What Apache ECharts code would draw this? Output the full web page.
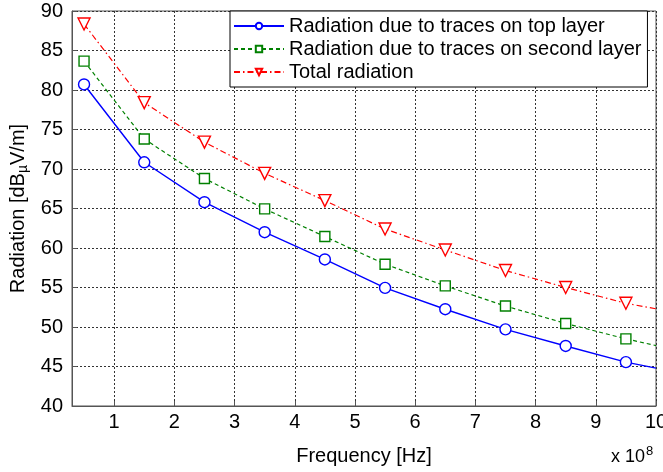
<!doctype html>
<html>
<head>
<meta charset="utf-8">
<script src="https://cdn.jsdelivr.net/npm/echarts@6/dist/echarts.min.js"></script>
<style>
  html, body { margin: 0; padding: 0; background: #fff; }
  #main { width: 663px; height: 472px; }
</style>
</head>
<body>
<div id="main"></div>
<script type="text/javascript">
// values (x in units of 1e8 Hz)
var freq = [0.5, 1.5, 2.5, 3.5, 4.5, 5.5, 6.5, 7.5, 8.5, 9.5, 10];
var topLayer = [80.7, 70.85, 65.8, 62.0, 58.55, 54.95, 52.25, 49.7, 47.6, 45.55, 44.8];
var secondLayer = [83.65, 73.8, 68.8, 64.95, 61.45, 57.95, 55.2, 52.65, 50.45, 48.5, 47.65];
var totalRad = [88.35, 78.4, 73.4, 69.45, 66.0, 62.4, 59.75, 57.15, 55.0, 53.0, 52.3];
var xTicks = [1, 2, 3, 4, 5, 6, 7, 8, 9, 10];

var font = "'Liberation Sans', Arial, sans-serif";

function pts(vals) {
    // last sample (at 10) has no marker
    return freq.map(function (f, i) {
        if (i == freq.length - 1) return { value: [f, vals[i]], symbol: 'none' };
        return [f, vals[i]];
    });
}

var myChart = echarts.init(document.getElementById('main'));
var option = {
    backgroundColor: '#fff',
    animation: false,
    textStyle: { fontFamily: font },
    grid: {
        left: 72, right: 7, top: 11, bottom: 66,
        containLabel: false,
        outerBoundsMode: 'none',
        show: true, borderColor: '#555', borderWidth: 1
    },
    legend: {
        orient: 'vertical',
        left: 230, top: 11,
        backgroundColor: '#fff',
        borderColor: '#000', borderWidth: 1,
        padding: [5, 6, 5, 3],
        itemWidth: 50, itemHeight: 8, itemGap: 3,
        textStyle: { fontFamily: font, fontSize: 20, color: '#000' },
        data: ['Radiation due to traces on top layer', 'Radiation due to traces on second layer', 'Total radiation']
    },
    xAxis: {
        type: 'value',
        min: 0.3, max: 10,
        name: 'Frequency [Hz]',
        nameLocation: 'middle',
        nameGap: 40,
        nameTextStyle: { fontFamily: font, fontSize: 20, color: '#000' },
        axisLine: { show: true, lineStyle: { color: '#555' } },
        axisTick: { show: true, inside: true, length: 5, lineStyle: { color: '#555' }, customValues: xTicks },
        axisLabel: { fontFamily: font, fontSize: 20, color: '#000', margin: 6, customValues: xTicks },
        splitLine: { show: true, lineStyle: { color: '#333', type: [2, 2], width: 1 } }
    },
    yAxis: {
        type: 'value',
        min: 40, max: 90, interval: 5,
        name: 'Radiation [dB{sub|\u00b5}V/m]',
        nameLocation: 'middle',
        nameGap: 41,
        nameTextStyle: {
            fontFamily: font, fontSize: 20, color: '#000',
            rich: { sub: { fontFamily: font, fontSize: 14, color: '#000', verticalAlign: 'bottom', padding: [9, 0, 0, 0] } }
        },
        axisLine: { show: true, lineStyle: { color: '#555' } },
        axisTick: { show: true, inside: true, length: 5, lineStyle: { color: '#555' } },
        axisLabel: { fontFamily: font, fontSize: 20, color: '#000', margin: 9 },
        splitLine: { show: true, lineStyle: { color: '#333', type: [2, 2], width: 1 } }
    },
    graphic: [{
        type: 'text',
        left: 611, top: 445,
        style: {
            text: 'x 10{sup|8}',
            fontFamily: font, fontSize: 18, fill: '#000',
            rich: { sup: { fontFamily: font, fontSize: 13, fill: '#000', verticalAlign: 'top', padding: [0, 0, 12, 1] } }
        }
    }],
    series: [{
        name: 'Radiation due to traces on top layer',
        type: 'line',
        data: pts(topLayer),
        symbol: 'circle', symbolSize: 11,
        lineStyle: { color: '#0000ff', width: 1.4, type: 'solid' },
        itemStyle: { color: '#fff', borderColor: '#0000ff', borderWidth: 1.4 },
        z: 4
    }, {
        name: 'Radiation due to traces on second layer',
        type: 'line',
        data: pts(secondLayer),
        symbol: 'rect', symbolSize: 10,
        lineStyle: { color: '#008000', width: 1.2, type: [4, 3] },
        itemStyle: { color: '#fff', borderColor: '#008000', borderWidth: 1.4 },
        z: 3
    }, {
        name: 'Total radiation',
        type: 'line',
        data: pts(totalRad),
        symbol: 'triangle', symbolSize: 12, symbolRotate: 180,
        lineStyle: { color: '#ff0000', width: 1.2, type: [6, 3, 1.5, 3] },
        itemStyle: { color: '#fff', borderColor: '#ff0000', borderWidth: 1.4 },
        z: 2
    }]
};
myChart.setOption(option);
</script>
</body>
</html>
